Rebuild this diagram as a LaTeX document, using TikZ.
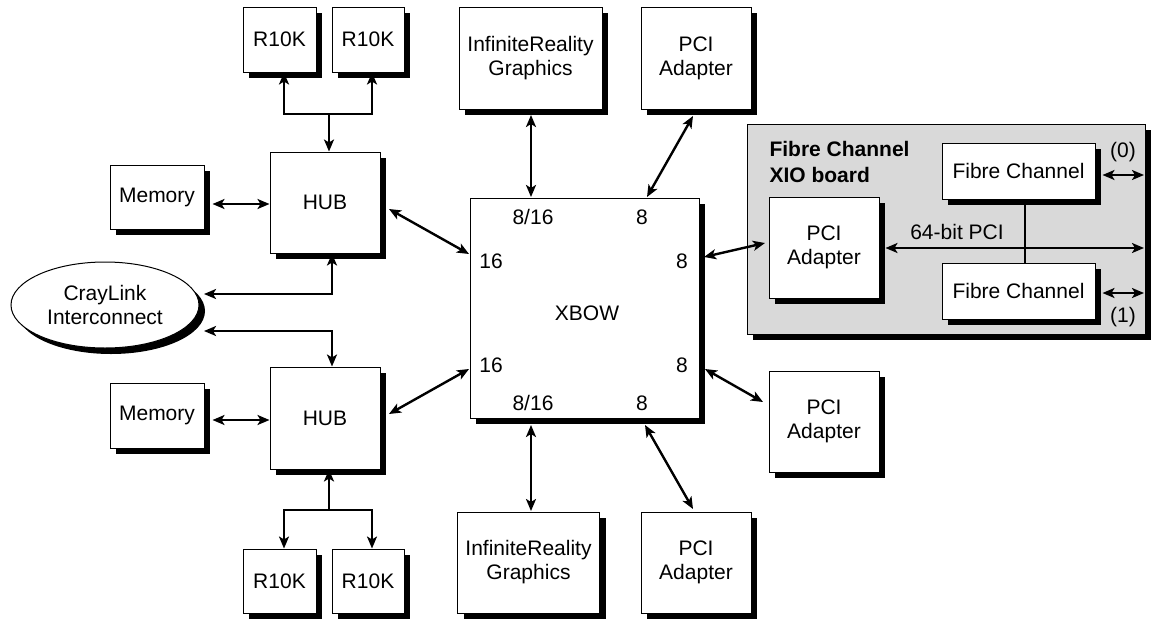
\documentclass[tikz,border=0pt]{standalone}
\usepackage{fontspec}
\setmainfont{Liberation Sans}
\usetikzlibrary{shadows,arrows.meta,shapes.geometric,calc}
\begin{document}
\begin{tikzpicture}[x=1pt,y=-1pt,
  every node/.style={font=\fontsize{21}{24}\selectfont},
  blk/.style={draw=black,line width=1pt,fill=white,inner sep=0pt,align=center,
    drop shadow={shadow xshift=6pt,shadow yshift=-6pt,fill=black,opacity=1}},
  lnk/.style={line width=2.4pt,{Stealth[length=12pt,width=10pt,inset=3pt]}-{Stealth[length=12pt,width=10pt,inset=3pt]}},
  tip/.style={line width=2.4pt,-{Stealth[length=12pt,width=10pt,inset=3pt]}},
  plain/.style={line width=2.4pt}]
\useasboundingbox (0,0) rectangle (1152,619);
% Fibre channel board
\node[blk,fill=gray!30,minimum width=398pt,minimum height=210pt] (board) at (946,229) {};
\node[anchor=west,align=left,font=\fontsize{21}{26}\selectfont\bfseries] (title) at (766,162) {Fibre Channel\\XIO board};
% left side
\node[blk,minimum width=73pt,minimum height=65pt] (r1) at (279.5,39.5) {R10K};
\node[blk,minimum width=72pt,minimum height=65pt] (r2) at (368,39.5) {R10K};
\node[blk,minimum width=110pt,minimum height=101pt] (hub1) at (325,202.5) {HUB};
\node[blk,minimum width=94pt,minimum height=64pt] (mem1) at (157,197) {Memory};
\node[blk,ellipse,minimum width=188pt,minimum height=86pt] (cray) at (105,305) {CrayLink\\Interconnect};
\node[blk,minimum width=110pt,minimum height=102pt] (hub2) at (325,418) {HUB};
\node[blk,minimum width=94pt,minimum height=65pt] (mem2) at (157,415.5) {Memory};
\node[blk,minimum width=73pt,minimum height=64pt] (r3) at (279.5,581) {R10K};
\node[blk,minimum width=72pt,minimum height=64pt] (r4) at (368,581) {R10K};
% centre
\node[blk,minimum width=143pt,minimum height=102pt] (ir1) at (530.5,58) {InfiniteReality\\Graphics};
\node[blk,minimum width=110pt,minimum height=102pt] (pci1) at (696,58) {PCI\\Adapter};
\node[blk,minimum width=229pt,minimum height=220pt] (xbow) at (584.5,308) {};
\node (xl) at (587,313) {XBOW};
\node (p1) at (533,217) {8/16};
\node (p2) at (642,217) {8};
\node (p3) at (491,261) {16};
\node (p4) at (682,261) {8};
\node (p5) at (491,365) {16};
\node (p6) at (682,365) {8};
\node (p7) at (533,403) {8/16};
\node (p8) at (642,403) {8};
\node[blk,minimum width=142pt,minimum height=101pt] (ir2) at (528.5,562.5) {InfiniteReality\\Graphics};
\node[blk,minimum width=110pt,minimum height=101pt] (pci2) at (696,562.5) {PCI\\Adapter};
\node[blk,minimum width=110pt,minimum height=101pt] (pci3) at (824,421.5) {PCI\\Adapter};
% board contents
\node[blk,minimum width=110pt,minimum height=101pt] (pcifc) at (824,247.5) {PCI\\Adapter};
\node[blk,minimum width=153pt,minimum height=56pt] (fc0) at (1018.5,171) {Fibre Channel};
\node[blk,minimum width=153pt,minimum height=56pt] (fc1) at (1018.5,291) {Fibre Channel};
\node (l0) at (1123,152) {(0)};
\node (l1) at (1123,317) {(1)};
\node (lbus) at (957,232) {64-bit PCI};
% coordinates
\coordinate (j1) at (329,114);
\coordinate (j2) at (329,510);
\coordinate (c1) at (204,294);
\coordinate (c2) at (204,331);
\coordinate (busend) at (1144,248);
\coordinate (e0) at (1144,175);
\coordinate (e1) at (1144,293);
% connectors left
\draw[lnk] ([xshift=4.5pt]r1.south) |- (j1) -| ([xshift=4pt]r2.south);
\draw[tip] (j1) -- (j1 |- hub1.north);
\draw[lnk] ([xshift=8pt]mem1.east |- 0,204) -- (hub1.west |- 0,204);
\draw[lnk] ([xshift=7pt]hub1.south) |- (c1);
\draw[lnk] (c2) -| ([xshift=7pt]hub2.north);
\draw[lnk] ([xshift=8pt]mem2.east |- 0,420) -- (hub2.west |- 0,420);
\draw[tip] (j2) -- (j2 |- hub2.south);
\draw[lnk] ([xshift=4.5pt]r3.north) |- (j2) -| ([xshift=4pt]r4.north);
% connectors to xbow
\draw[lnk] (531,115) -- (531,197);
\draw[lnk] (693,116) -- (647,197);
\draw[lnk] (389,209) -- (469,254);
\draw[lnk] (389,414) -- (469,369);
\draw[lnk] (531,425) -- (531,511);
\draw[lnk] (645,425) -- (693,509);
\draw[lnk] (705,369) -- (763,402);
\draw[lnk] (704,257) -- (765,243);
% board connectors
\draw[lnk] ([xshift=6pt]pcifc.east |- busend) -- (busend);
\draw[plain] (fc0.south -| 1025,0) -- (fc1.north -| 1025,0);
\draw[lnk] ([xshift=7pt]fc0.east |- e0) -- (e0);
\draw[lnk] ([xshift=7pt]fc1.east |- e1) -- (e1);
\end{tikzpicture}
\end{document}
